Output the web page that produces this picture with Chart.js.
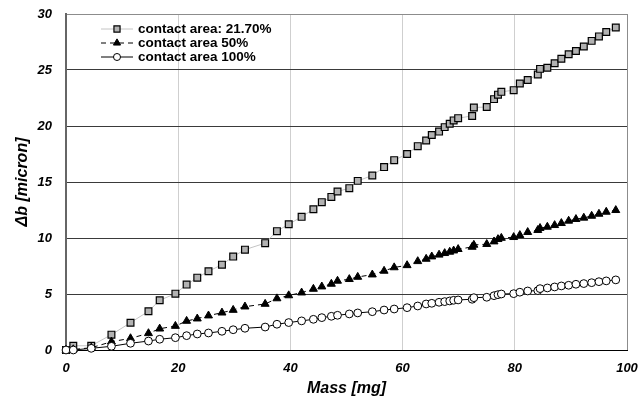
<!DOCTYPE html>
<html>
<head>
<meta charset="utf-8">
<script src="https://cdn.jsdelivr.net/npm/chart.js@4.4.0/dist/chart.umd.min.js"></script>
<style>
  html, body { margin: 0; padding: 0; background: #fff; }
  #wrap { width: 641px; height: 410px; }
</style>
</head>
<body>
<div id="wrap"><canvas id="chart" width="641" height="410"></canvas></div>
<script>
// data
const mass = [0, 1.3, 4.5, 8.1, 11.5, 14.7, 16.7, 19.5, 21.5, 23.4, 25.4, 27.8, 29.8, 31.9, 35.5, 37.6, 39.7, 42.0, 44.1, 45.6,
  47.3, 48.4, 50.5, 52.0, 54.6, 56.7, 58.5, 60.8, 62.7, 64.2, 65.2, 66.5, 67.5, 68.4, 69.1, 69.9, 72.4, 72.7, 75.0, 76.3,
  77.0, 77.6, 79.8, 80.9, 82.3, 84.1, 84.5, 85.8, 87.1, 88.3, 89.6, 90.9, 92.3, 93.7, 95.0, 96.3, 98.0];

const area21 = [0, 0.38, 0.38, 1.37, 2.44, 3.46, 4.44, 5.03, 5.84, 6.46, 7.03, 7.62, 8.34, 8.96, 9.54, 10.61, 11.23, 11.89, 12.57, 13.2,
  13.67, 14.15, 14.45, 15.1, 15.58, 16.33, 16.95, 17.5, 18.2, 18.7, 19.2, 19.5, 19.9, 20.2, 20.5, 20.7, 20.9, 21.65, 21.7, 22.4,
  22.8, 23.05, 23.2, 23.8, 24.1, 24.6, 25.1, 25.2, 25.6, 26.0, 26.4, 26.7, 27.1, 27.6, 28.0, 28.4, 28.8];

const area50 = [0, 0.05, 0.2, 0.74, 1.04, 1.49, 1.9, 2.14, 2.59, 2.8, 3.07, 3.33, 3.57, 3.87, 4.11, 4.6, 4.87, 5.12, 5.45, 5.66,
  5.9, 6.17, 6.32, 6.52, 6.73, 7.06, 7.37, 7.56, 7.92, 8.13, 8.34, 8.5, 8.64, 8.76, 8.87, 9.0, 9.2, 9.38, 9.45, 9.68,
  9.89, 10.0, 10.07, 10.25, 10.52, 10.7, 10.88, 10.99, 11.14, 11.32, 11.53, 11.68, 11.8, 11.97, 12.15, 12.33, 12.48];

const area100 = [0, 0, 0.15, 0.33, 0.6, 0.8, 0.96, 1.1, 1.28, 1.43, 1.52, 1.67, 1.81, 1.94, 2.05, 2.3, 2.45, 2.6, 2.74, 2.89,
  3.01, 3.1, 3.22, 3.31, 3.42, 3.57, 3.66, 3.78, 3.93, 4.11, 4.17, 4.26, 4.32, 4.38, 4.44, 4.47, 4.53, 4.67, 4.71, 4.85,
  4.94, 5.0, 5.03, 5.16, 5.27, 5.3, 5.48, 5.54, 5.63, 5.72, 5.78, 5.87, 5.93, 6.01, 6.1, 6.17, 6.26];

const seriesNames = ['contact area: 21.70%', 'contact area 50%', 'contact area 100%'];
const xTicks = [0, 20, 40, 60, 80, 100];
const yTicks = [0, 5, 10, 15, 20, 25, 30];

const pts = arr => mass.map((m, i) => ({ x: m, y: arr[i] }));
const axisFont = { family: 'Arial, "Liberation Sans"', weight: 'bold', style: 'italic', size: 13 };
const titleFont = { family: 'Arial, "Liberation Sans"', weight: 'bold', style: 'italic', size: 16 };

// legend with line sample + marker, like the original
const lineLegend = {
  id: 'lineLegend',
  afterDraw(chart) {
    const ctx = chart.ctx;
    const x0 = 101, x1 = 133, tx = 138;
    const rowY = [29, 43, 57];
    chart.data.datasets.forEach((ds, i) => {
      const y = rowY[i];
      ctx.save();
      ctx.strokeStyle = ds.borderColor;
      ctx.lineWidth = ds.borderWidth;
      ctx.setLineDash(ds.borderDash || []);
      ctx.beginPath();
      ctx.moveTo(x0, y);
      ctx.lineTo(x1, y);
      ctx.stroke();
      ctx.setLineDash([]);
      ctx.fillStyle = ds.pointBackgroundColor;
      ctx.strokeStyle = ds.pointBorderColor;
      ctx.lineWidth = ds.pointBorderWidth;
      Chart.helpers.drawPoint(ctx, {
        pointStyle: ds.pointStyle, radius: ds.pointRadius * 0.9, rotation: 0, borderWidth: ds.pointBorderWidth
      }, 117, y);
      ctx.fillStyle = '#000';
      ctx.font = 'bold 13.5px Arial, "Liberation Sans"';
      ctx.textBaseline = 'middle';
      ctx.fillText(ds.label, tx, y);
      ctx.restore();
    });
  }
};

new Chart(document.getElementById('chart'), {
  type: 'line',
  data: {
    datasets: [{
      label: seriesNames[0],
      data: pts(area21),
      borderColor: '#c4c4c4',
      borderWidth: 1,
      pointStyle: 'rect',
      pointRadius: 4.8,
      pointBackgroundColor: '#b2b2b2',
      pointBorderColor: '#000',
      pointBorderWidth: 1.2,
      order: 3,
      clip: false
    }, {
      label: seriesNames[1],
      data: pts(area50),
      borderColor: '#000',
      borderWidth: 1,
      borderDash: [5, 4],
      pointStyle: 'triangle',
      pointRadius: 4.6,
      pointBackgroundColor: '#000',
      pointBorderColor: '#000',
      pointBorderWidth: 1,
      order: 2,
      clip: false
    }, {
      label: seriesNames[2],
      data: pts(area100),
      borderColor: '#000',
      borderWidth: 1,
      pointStyle: 'circle',
      pointRadius: 3.9,
      pointBackgroundColor: '#fff',
      pointBorderColor: '#000',
      pointBorderWidth: 1,
      order: 1,
      clip: false
    }]
  },
  options: {
    responsive: false,
    animation: false,
    layout: { autoPadding: false, padding: { top: 14, right: 14, left: 0, bottom: 0 } },
    plugins: {
      legend: { display: false },
      tooltip: { enabled: false }
    },
    scales: {
      x: {
        type: 'linear',
        min: 0,
        max: 100,
        afterBuildTicks: s => { s.ticks = xTicks.map(v => ({ value: v })); },
        afterFit: s => { s.height = 60; s.paddingLeft = 0; s.paddingRight = 0; },
        ticks: { font: axisFont, color: '#000', padding: 11, maxRotation: 0 },
        grid: {
          drawTicks: false,
          color: c => c.tick && c.tick.value === 100 ? '#8c8c8c' : '#cfcfcf'
        },
        border: { color: '#000', width: 1 },
        title: { display: true, text: 'Mass [mg]', font: titleFont, color: '#000', padding: { top: 0, bottom: 12 } }
      },
      y: {
        min: 0,
        max: 30,
        afterBuildTicks: s => { s.ticks = yTicks.map(v => ({ value: v })); },
        afterFit: s => { s.width = 66; s.paddingTop = 0; s.paddingBottom = 0; },
        ticks: { font: axisFont, color: '#000', padding: 14 },
        grid: {
          drawTicks: false,
          color: c => c.tick && c.tick.value === 30 ? '#8c8c8c' : '#3a3a3a'
        },
        border: { color: '#666', width: 2 },
        title: { display: true, text: 'Δb [micron]', font: titleFont, color: '#000', padding: { top: 13, bottom: 0 } }
      }
    }
  },
  plugins: [lineLegend]
});
</script>
</body>
</html>
